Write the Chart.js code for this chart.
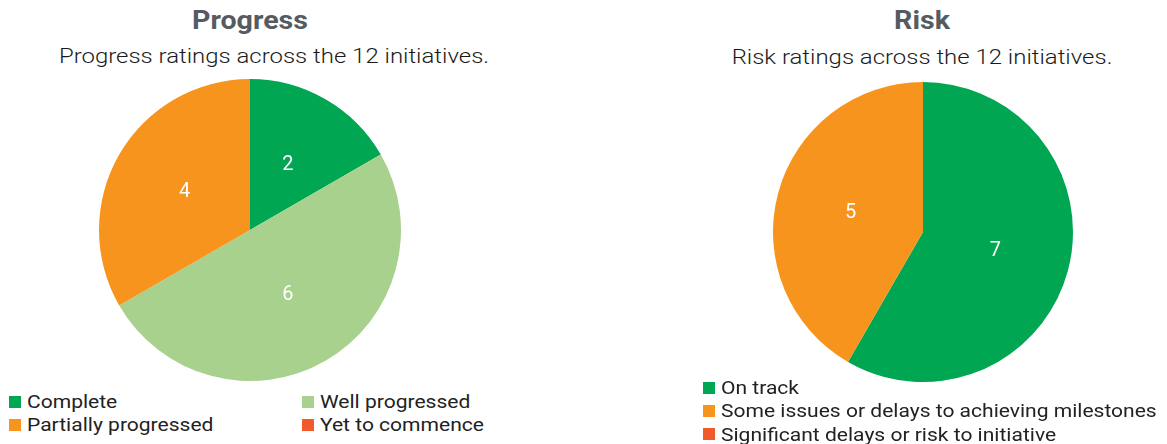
<!DOCTYPE html>
<html>
<head>
<meta charset="utf-8">
<script src="https://cdn.jsdelivr.net/npm/chart.js@4"></script>
<style>
  html, body { margin: 0; padding: 0; background: #fff; width: 1167px; height: 444px; overflow: hidden; font-family: Roboto, "Noto Sans", sans-serif; }
  .abs { position: absolute; white-space: nowrap; }
  .title { font-weight: 700; font-size: 26px; color: #555b61; transform: translateX(-50%) scaleX(1.1); line-height: 30px; }
  .sub { font-weight: 300; font-size: 21px; color: #1a1a1a; transform: translateX(-50%) scaleX(1.14); line-height: 24px; }
  .leg { font-size: 19px; color: #222; line-height: 23px; display: flex; align-items: center; }
  .leg i { display: inline-block; width: 12px; height: 12px; margin-right: 6px; flex: none; }
  .leg span { display: inline-block; transform: scaleX(1.107); transform-origin: 0 50%; }
  canvas { display: block; }
</style>
</head>
<body>
<script>
// ---- Data ----
const progressTitle = "Progress";
const progressSubtitle = "Progress ratings across the 12 initiatives.";
const progressLabels = ["Complete", "Well progressed", "Partially progressed", "Yet to commence"];
const progressValues = [2, 6, 4, 0];
const progressColors = ["#00a651", "#a9d18e", "#f7941d", "#f15a2b"];

const riskTitle = "Risk";
const riskSubtitle = "Risk ratings across the 12 initiatives.";
const riskLabels = ["On track", "Some issues or delays to achieving milestones", "Significant delays or risk to initiative"];
const riskValues = [7, 5, 0];
const riskColors = ["#00a651", "#f7941d", "#f15a2b"];

// ---- helpers ----
function addDiv(cls, text, x, y) {
  const d = document.createElement('div');
  d.className = 'abs ' + cls;
  d.textContent = text;
  d.style.left = x + 'px';
  d.style.top = y + 'px';
  document.body.appendChild(d);
  return d;
}
function addLegendItem(label, color, x, y) {
  const d = document.createElement('div');
  d.className = 'abs leg';
  d.style.left = x + 'px';
  d.style.top = y + 'px';
  const sq = document.createElement('i');
  sq.style.background = color;
  d.appendChild(sq);
  const t = document.createElement('span');
  t.textContent = label;
  d.appendChild(t);
  document.body.appendChild(d);
}
function addCanvas(x, y, w, h) {
  const c = document.createElement('canvas');
  c.width = w; c.height = h;
  c.style.position = 'absolute';
  c.style.left = x + 'px'; c.style.top = y + 'px';
  c.style.width = w + 'px'; c.style.height = h + 'px';
  document.body.appendChild(c);
  return c;
}

const valueLabels = {
  id: 'valueLabels',
  afterDatasetsDraw(chart) {
    const ctx = chart.ctx;
    const meta = chart.getDatasetMeta(0);
    const data = chart.data.datasets[0].data;
    ctx.save();
    ctx.fillStyle = '#ffffff';
    ctx.font = '400 20px Roboto, sans-serif';
    ctx.textAlign = 'center';
    ctx.textBaseline = 'middle';
    meta.data.forEach((arc, i) => {
      if (!data[i]) return;
      const p = arc.getProps(['x', 'y', 'startAngle', 'endAngle', 'outerRadius']);
      const mid = (p.startAngle + p.endAngle) / 2;
      const r = p.outerRadius * 0.5;
      ctx.fillText(String(data[i]), p.x + Math.cos(mid) * r, p.y + Math.sin(mid) * r);
    });
    ctx.restore();
  }
};

function makePie(canvas, labels, values, colors) {
  return new Chart(canvas, {
    type: 'pie',
    data: { labels: labels, datasets: [{ data: values, backgroundColor: colors, borderWidth: 0 }] },
    options: {
      responsive: false,
      animation: false,
      layout: { padding: 0 },
      plugins: { legend: { display: false }, tooltip: { enabled: false }, title: { display: false } }
    },
    plugins: [valueLabels]
  });
}

// ---- Progress ----
addDiv('title', progressTitle, 250, 5);
addDiv('sub', progressSubtitle, 274, 44);
makePie(addCanvas(99, 79, 302, 302), progressLabels, progressValues, progressColors);
addLegendItem(progressLabels[0], progressColors[0], 9, 390);
addLegendItem(progressLabels[1], progressColors[1], 302, 390);
addLegendItem(progressLabels[2], progressColors[2], 9, 413);
addLegendItem(progressLabels[3], progressColors[3], 302, 413);

// ---- Risk ----
addDiv('title', riskTitle, 922, 5);
addDiv('sub', riskSubtitle, 922, 45);
makePie(addCanvas(773, 82, 300, 300), riskLabels, riskValues, riskColors);
riskLabels.forEach((l, i) => addLegendItem(l, riskColors[i], 703, 376 + i * 23.4));
</script>
</body>
</html>
